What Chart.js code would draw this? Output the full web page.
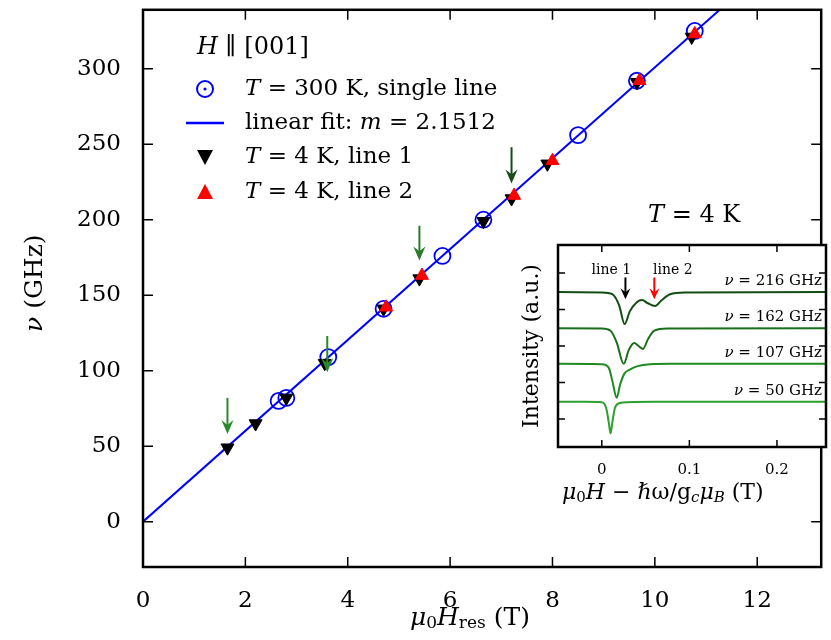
<!DOCTYPE html>
<html><head><meta charset="utf-8">
<script src="https://cdn.jsdelivr.net/npm/chart.js@4"></script>
<style>
body{margin:0;background:#fff}
#wrap{position:relative;width:831px;height:640px}
#main{position:absolute;left:0;top:0}
#inset{position:absolute;left:500px;top:200px}
</style></head><body>
<div id="wrap">
<canvas id="main" width="831" height="640"></canvas>
<canvas id="inset" width="331" height="310"></canvas>
</div>
<script>
const FONT = '"DejaVu Serif", "Liberation Serif", serif';

// main panel data (field in T, frequency in GHz)
const room = [[2.65,80],[2.8,82],[3.62,109],[4.7,141],[5.85,176],[6.65,200],[8.5,256],[9.65,292],[10.78,325]];
const line1 = [[1.65,49],[2.2,65],[2.8,82],[3.55,105],[4.7,141],[5.4,161],[6.65,199],[7.2,214],[7.9,237],[9.65,291],[10.72,321]];
const line2 = [[4.75,142],[5.45,163],[7.25,216],[8.0,239],[9.7,292],[10.78,323]];
const fitSlope = 2.1512;  // g factor, nu = m * muB/h * H
const fitLine = [[0,0],[11.3,340]];
const arrows = [[1.65,82,58,'#2a8a2a'],[3.6,123,99,'#2a8a2a'],[5.4,196,173,'#2a7a2a'],[7.2,248,224,'#1a4a1a']];
const xTicks = [0,2,4,6,8,10,12];
const yTicks = [0,50,100,150,200,250,300];

// inset spectra, x in T, intensity offset in a.u.
const s50 = [[-0.05,1.47],[-0.02,1.47],[0.0,1.46],[0.005,1.3],[0.008,0.9],[0.010,0.6],[0.012,0.9],[0.015,1.3],[0.02,1.43],[0.03,1.46],[0.06,1.47],[0.26,1.47]];
const s107 = [[-0.05,2.51],[0.0,2.5],[0.008,2.4],[0.012,2.05],[0.017,1.58],[0.021,1.95],[0.026,2.25],[0.032,2.35],[0.04,2.44],[0.055,2.5],[0.08,2.51],[0.26,2.51]];
const s162 = [[-0.05,3.49],[0.0,3.48],[0.01,3.42],[0.017,3.1],[0.025,2.51],[0.031,2.9],[0.037,3.08],[0.042,3.0],[0.047,2.92],[0.053,3.2],[0.06,3.42],[0.075,3.48],[0.26,3.49]];
const s216 = [[-0.05,4.48],[0.0,4.47],[0.012,4.42],[0.02,4.1],[0.026,3.6],[0.032,3.95],[0.04,4.2],[0.046,4.26],[0.052,4.18],[0.061,4.1],[0.068,4.25],[0.078,4.42],[0.095,4.47],[0.26,4.48]];
const spectra = [[s50,'#2ca02c','50'],[s107,'#1f8a1f','107'],[s162,'#1a6e1a','162'],[s216,'#144d14','216']];
const insetXTicks = [0,0.1,0.2];
const insetYTicks = [1,2,3,4,5];

const pts = a => a.map(p => ({x:p[0], y:p[1]}));

function drawTicks(chart, xs, ys, len) {
  const {ctx, chartArea:a, scales:{x, y}} = chart;
  ctx.save();
  ctx.strokeStyle = '#000'; ctx.lineWidth = 1.5;
  ctx.beginPath();
  xs.forEach(v => { const px = x.getPixelForValue(v);
    ctx.moveTo(px, a.bottom); ctx.lineTo(px, a.bottom-len);
    ctx.moveTo(px, a.top); ctx.lineTo(px, a.top+len); });
  ys.forEach(v => { const py = y.getPixelForValue(v);
    ctx.moveTo(a.left, py); ctx.lineTo(a.left+len, py);
    ctx.moveTo(a.right, py); ctx.lineTo(a.right-len, py); });
  ctx.stroke();
  ctx.lineWidth = 2.5;
  ctx.strokeRect(a.left, a.top, a.right-a.left, a.bottom-a.top);
  ctx.restore();
}

// draw a run of [text, italic, size, dy] pieces
function rich(ctx, parts, x, y, size) {
  parts.forEach(([t, it, sz, dy]) => {
    ctx.font = (it ? 'italic ' : '') + (sz || size) + 'px ' + FONT;
    ctx.fillText(t, x, y + (dy || 0));
    x += ctx.measureText(t).width;
  });
  return x;
}

function arrow(ctx, px, p0, p1, col, w, h) {
  ctx.strokeStyle = col; ctx.fillStyle = col; ctx.lineWidth = 2;
  ctx.beginPath(); ctx.moveTo(px, p0); ctx.lineTo(px, p1-4); ctx.stroke();
  ctx.beginPath(); ctx.moveTo(px, p1); ctx.lineTo(px-w, p1-h); ctx.lineTo(px, p1-h*0.65); ctx.lineTo(px+w, p1-h); ctx.closePath(); ctx.fill();
}

const mainDecor = {
  id: 'mainDecor',
  afterDraw(chart) {
    const {ctx, scales:{x, y}} = chart;
    drawTicks(chart, xTicks, yTicks, 10);
    ctx.save();
    arrows.forEach(([ax, y0, y1, col]) => arrow(ctx, x.getPixelForValue(ax), y.getPixelForValue(y0), y.getPixelForValue(y1), col, 6, 14));
    // legend
    ctx.fillStyle = '#000'; ctx.textBaseline = 'middle';
    rich(ctx, [['H',true],[' ∥ [001]',false]], 197, 48, 24);
    ctx.strokeStyle = '#0000ff'; ctx.lineWidth = 2;
    ctx.beginPath(); ctx.arc(205, 89, 8, 0, Math.PI*2); ctx.stroke();
    ctx.fillStyle = '#0000ff'; ctx.beginPath(); ctx.arc(205, 89, 1.6, 0, Math.PI*2); ctx.fill();
    ctx.beginPath(); ctx.moveTo(186, 123); ctx.lineTo(224, 123); ctx.lineWidth = 2.5; ctx.stroke();
    ctx.fillStyle = '#000';
    ctx.beginPath(); ctx.moveTo(197, 150); ctx.lineTo(213, 150); ctx.lineTo(205, 165); ctx.closePath(); ctx.fill();
    ctx.fillStyle = '#ff0000';
    ctx.beginPath(); ctx.moveTo(197, 199); ctx.lineTo(213, 199); ctx.lineTo(205, 184); ctx.closePath(); ctx.fill();
    ctx.fillStyle = '#000';
    rich(ctx, [['T',true],[' = 300 K, single line',false]], 245, 89, 23);
    rich(ctx, [['linear fit: ',false],['m',true],[' = ' + fitSlope,false]], 245, 123, 23);
    rich(ctx, [['T',true],[' = 4 K, line 1',false]], 245, 157, 23);
    rich(ctx, [['T',true],[' = 4 K, line 2',false]], 245, 192, 23);
    // axis titles
    ctx.textAlign = 'left';
    rich(ctx, [['μ',true],['0',false,17,6],['H',true],['res',false,17,6],[' (T)',false]], 410, 618, 25);
    ctx.translate(35, 290); ctx.rotate(-Math.PI/2);
    rich(ctx, [['ν',true],[' (GHz)',false]], -42, 0, 25);
    ctx.restore();
  }
};

new Chart(document.getElementById('main'), {
  type: 'scatter',
  data: { datasets: [
    { data: pts(fitLine), showLine: true, borderColor: '#0000ff', borderWidth: 2, pointRadius: 0, order: 3 },
    { data: pts(room), pointStyle: 'circle', pointRadius: 8, borderColor: '#0000ff', backgroundColor: 'rgba(0,0,0,0)', pointBorderWidth: 1.8, order: 2 },
    { data: pts(line1), pointStyle: 'triangle', rotation: 180, pointRadius: 7.5, backgroundColor: '#000', borderColor: '#000', order: 1 },
    { data: pts(line2), pointStyle: 'triangle', pointRadius: 7.5, backgroundColor: '#ff0000', borderColor: '#ff0000', order: 0 }
  ]},
  options: {
    responsive: false, animation: false,
    layout: { padding: { top: 5, right: 5 } },
    plugins: { legend: { display: false }, tooltip: { enabled: false } },
    scales: {
      x: { type: 'linear', min: 0, max: 13.25, afterBuildTicks: s => { s.ticks = xTicks.map(v => ({value:v})); },
           afterFit: s => { s.height = 73; s.paddingLeft = 0; s.paddingRight = 0; }, grid: { display: false }, border: { display: false },
           ticks: { color: '#000', font: { family: FONT, size: 23 }, padding: 12 } },
      y: { type: 'linear', min: -30, max: 339, afterBuildTicks: s => { s.ticks = yTicks.map(v => ({value:v})); },
           afterFit: s => { s.width = 143; s.paddingTop = 0; s.paddingBottom = 0; }, grid: { display: false }, border: { display: false },
           ticks: { color: '#000', font: { family: FONT, size: 23 }, padding: 14 } }
    }
  },
  plugins: [mainDecor]
});

const insetDecor = {
  id: 'insetDecor',
  beforeDraw(chart) {
    const {ctx, chartArea:a} = chart;
    ctx.save(); ctx.fillStyle = '#fff';
    ctx.fillRect(a.left, a.top, a.right-a.left, a.bottom-a.top);
    ctx.restore();
  },
  afterDraw(chart) {
    const {ctx, chartArea:a, scales:{x, y}} = chart;
    drawTicks(chart, insetXTicks, insetYTicks, 7);
    ctx.save();
    ctx.fillStyle = '#000'; ctx.textBaseline = 'middle';
    rich(ctx, [['T',true],[' = 4 K',false]], 148, 16, 24);
    // spectrum labels
    spectra.forEach(([s, c, f]) => {
      const py = y.getPixelForValue(s[0][1]) - 11;
      ctx.font = '15px ' + FONT;
      const w = ctx.measureText(' = ' + f + ' GHz').width;
      ctx.font = 'italic 15px ' + FONT;
      const wv = ctx.measureText('ν').width;
      rich(ctx, [['ν',true],[' = ' + f + ' GHz',false]], a.right - 4 - w - wv, py, 15);
    });
    ctx.textAlign = 'center';
    ctx.font = '14px ' + FONT;
    ctx.fillText('line 1', x.getPixelForValue(0.011), y.getPixelForValue(5.08));
    ctx.fillText('line 2', x.getPixelForValue(0.081), y.getPixelForValue(5.08));
    [[0.027,'#000'],[0.060,'#ff0000']].forEach(([ax, col]) =>
      arrow(ctx, x.getPixelForValue(ax), y.getPixelForValue(4.88), y.getPixelForValue(4.28), col, 5, 11));
    ctx.fillStyle = '#000'; ctx.textAlign = 'left';
    rich(ctx, [['μ',true],['0',false,15,5],['H',true],[' − ℏω/g',false],['c',true,15,5],['μ',true],['B',true,15,5],[' (T)',false]], 62, 293, 22);
    ctx.translate(32, 146); ctx.rotate(-Math.PI/2);
    ctx.textAlign = 'center'; ctx.font = '22px ' + FONT;
    ctx.fillText('Intensity (a.u.)', 0, 0);
    ctx.restore();
  }
};

new Chart(document.getElementById('inset'), {
  type: 'scatter',
  data: { datasets: spectra.map(([s, c]) => ({ data: pts(s), showLine: true, borderColor: c, borderWidth: 2, pointRadius: 0, cubicInterpolationMode: 'monotone' })) },
  options: {
    responsive: false, animation: false,
    layout: { padding: { top: 45, right: 5 } },
    plugins: { legend: { display: false }, tooltip: { enabled: false } },
    scales: {
      x: { type: 'linear', min: -0.05, max: 0.256, afterBuildTicks: s => { s.ticks = insetXTicks.map(v => ({value:v})); },
           afterFit: s => { s.height = 63; s.paddingLeft = 0; s.paddingRight = 0; }, grid: { display: false }, border: { display: false },
           ticks: { color: '#000', font: { family: FONT, size: 15 }, padding: 6, callback: v => String(v) } },
      y: { type: 'linear', min: 0.23, max: 5.77, afterBuildTicks: s => { s.ticks = insetYTicks.map(v => ({value:v})); },
           afterFit: s => { s.width = 58; s.paddingTop = 0; s.paddingBottom = 0; }, grid: { display: false }, border: { display: false },
           ticks: { display: false } }
    }
  },
  plugins: [insetDecor]
});
</script>
</body></html>
